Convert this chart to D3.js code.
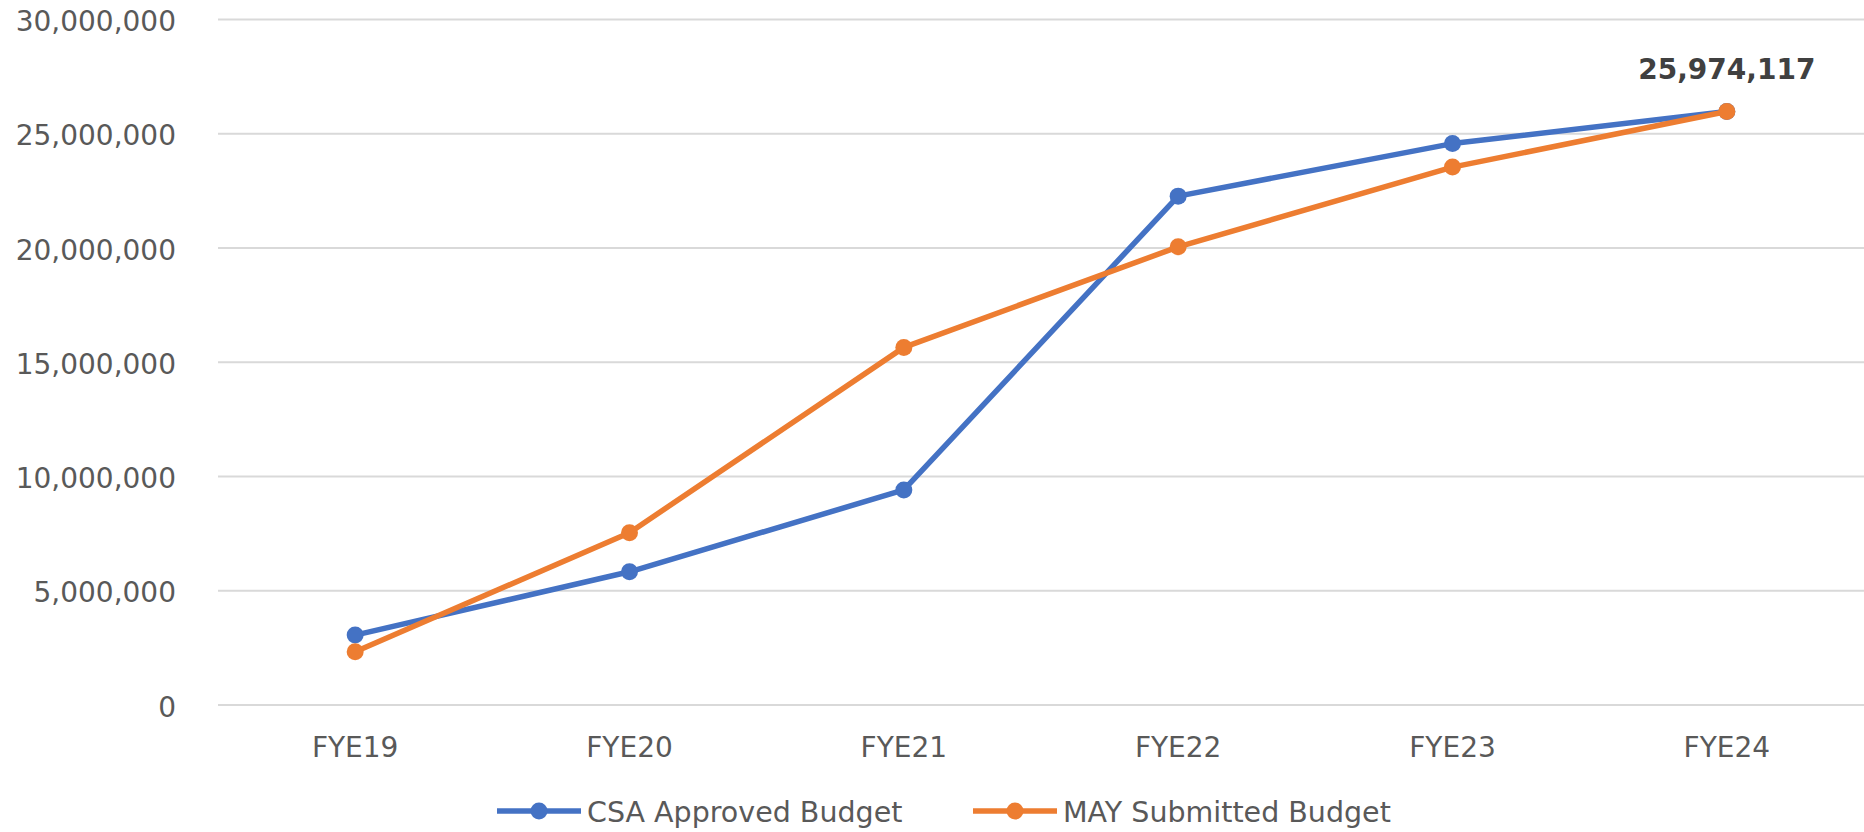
<!DOCTYPE html>
<html>
<head>
<meta charset="utf-8">
<script src="https://cdn.jsdelivr.net/npm/d3@7"></script>
<style>
  body { margin: 0; background: #fff; }
  svg { display: block; }
</style>
</head>
<body>
<div id="chart"></div>
<script>
// ----- data
const years = ["FYE19", "FYE20", "FYE21", "FYE22", "FYE23", "FYE24"];
const csaApproved = [3060000, 5830000, 9410000, 22270000, 24570000, 25974117];
const maySubmitted = [2330000, 7540000, 15650000, 20050000, 23540000, 25974117];
const yTicks = [0, 5000000, 10000000, 15000000, 20000000, 25000000, 30000000];
const seriesNames = ["CSA Approved Budget", "MAY Submitted Budget"];

const colors = ["#4472c4", "#ed7d31"];
const width = 1864, height = 832;
const fontFamily = "'DejaVu Sans', Verdana, sans-serif";

const svg = d3.select("#chart")
  .append("svg")
  .attr("width", width)
  .attr("height", height);

// scales
const x = d3.scaleBand()
  .domain(years)
  .range([218, 1864]);

const y = d3.scaleLinear()
  .domain([0, 30000000])
  .range([705, 19.5]);

// gridlines
svg.append("g")
  .selectAll("line")
  .data(yTicks)
  .join("line")
    .attr("x1", x.range()[0])
    .attr("x2", x.range()[1])
    .attr("y1", d => y(d))
    .attr("y2", d => y(d))
    .attr("stroke", "#d9d9d9")
    .attr("stroke-width", 2);

// y axis labels
const yAxis = d3.axisLeft(y)
  .tickValues(yTicks)
  .tickFormat(d3.format(","))
  .tickSize(0)
  .tickPadding(42);
svg.append("g")
  .attr("transform", `translate(${x.range()[0]},0)`)
  .call(yAxis)
  .call(g => g.select(".domain").remove())
  .call(g => g.selectAll(".tick text")
    .attr("font-family", fontFamily)
    .attr("font-size", 28)
    .attr("fill", "#595959")
    .attr("dy", 11));

// x axis labels
const xAxis = d3.axisBottom(x).tickSize(0).tickPadding(0);
svg.append("g")
  .attr("transform", `translate(0,${y(0)})`)
  .call(xAxis)
  .call(g => g.select(".domain").remove())
  .call(g => g.selectAll(".tick text")
    .attr("font-family", fontFamily)
    .attr("font-size", 28)
    .attr("fill", "#595959")
    .attr("dy", 52));

// lines + markers
const cx = d => x(d) + x.bandwidth() / 2;
const line = d3.line()
  .x(d => cx(d.year))
  .y(d => y(d.value));

[csaApproved, maySubmitted].forEach((vals, si) => {
  const pts = years.map((yr, i) => ({ year: yr, value: vals[i] }));
  svg.append("path")
    .datum(pts)
    .attr("d", line)
    .attr("fill", "none")
    .attr("stroke", colors[si])
    .attr("stroke-width", 5.5)
    .attr("stroke-linejoin", "round");
  svg.append("g")
    .selectAll("circle")
    .data(pts)
    .join("circle")
      .attr("cx", d => cx(d.year))
      .attr("cy", d => y(d.value))
      .attr("r", 8.5)
      .attr("fill", colors[si]);
});

// data label on the last point
const lastIdx = years.length - 1;
svg.append("text")
  .attr("x", cx(years[lastIdx]))
  .attr("y", y(maySubmitted[lastIdx]) - 32)
  .attr("text-anchor", "middle")
  .attr("font-family", fontFamily)
  .attr("font-size", 28)
  .attr("font-weight", "bold")
  .attr("fill", "#404040")
  .text(d3.format(",")(maySubmitted[lastIdx]));

// legend (kept just inside the bottom edge)
const legendX = [497, 973];
const legend = svg.append("g");
seriesNames.forEach((name, i) => {
  const g = legend.append("g").attr("transform", `translate(${legendX[i]},811)`);
  g.append("line")
    .attr("x1", 0).attr("x2", 84)
    .attr("stroke", colors[i])
    .attr("stroke-width", 5.5);
  g.append("circle")
    .attr("cx", 42).attr("r", 8.5)
    .attr("fill", colors[i]);
  g.append("text")
    .attr("x", 90)
    .attr("y", 11)
    .attr("font-family", fontFamily)
    .attr("font-size", 28.5)
    .attr("fill", "#595959")
    .text(name);
});
</script>
</body>
</html>
